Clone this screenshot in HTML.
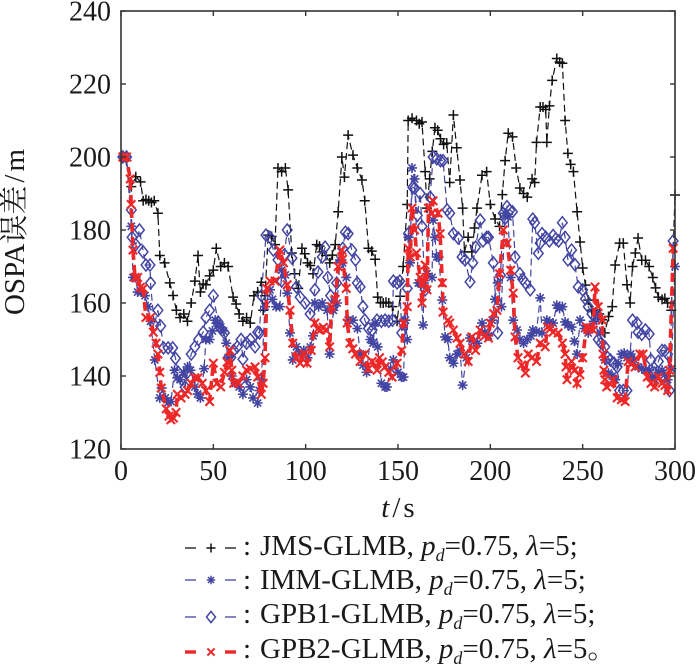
<!DOCTYPE html>
<html><head><meta charset="utf-8"><style>
html,body{margin:0;padding:0;background:#fff;}
svg{display:block;}
text{font-family:"Liberation Serif","Noto Serif CJK SC",serif;fill:#1a1a1a;}
</style></head><body>
<svg id="s" width="700" height="667" viewBox="0 0 700 667" xmlns="http://www.w3.org/2000/svg">
<g id="series"></g>
<rect x="121" y="11" width="554" height="438" fill="none" stroke="#333" stroke-width="1.6"/>
<g id="ticks" stroke="#333" stroke-width="1.4"></g>
<g font-size="28" text-anchor="middle">
<text x="121" y="480">0</text><text x="213.3" y="480">50</text><text x="305.7" y="480">100</text>
<text x="398" y="480">150</text><text x="490.3" y="480">200</text><text x="582.7" y="480">250</text><text x="675" y="480">300</text>
</g>
<g font-size="28" text-anchor="end">
<text x="111" y="458.5">120</text><text x="111" y="385.5">140</text><text x="111" y="312.5">160</text>
<text x="111" y="239.5">180</text><text x="111" y="166.5">200</text><text x="111" y="93.5">220</text><text x="111" y="20.5">240</text>
</g>
<text x="398" y="517" font-size="29" text-anchor="middle"><tspan font-style="italic">t</tspan><tspan dx="3">/</tspan><tspan dx="3">s</tspan></text>
<text transform="translate(24,232) rotate(-90)" font-size="29" text-anchor="middle">OSPA误差<tspan dx="3">/</tspan><tspan dx="3">m</tspan></text>
<g id="legend"></g>
<g font-size="29">
<text x="243" y="555">:</text>
<text x="260" y="555">JMS-GLMB, <tspan font-style="italic">p</tspan><tspan font-style="italic" font-size="18" dy="6">d</tspan><tspan dy="-6">=0.75, </tspan><tspan font-style="italic">λ</tspan>=5;</text>
<text x="243" y="589">:</text>
<text x="260" y="589">IMM-GLMB, <tspan font-style="italic">p</tspan><tspan font-style="italic" font-size="18" dy="6">d</tspan><tspan dy="-6">=0.75, </tspan><tspan font-style="italic">λ</tspan>=5;</text>
<text x="243" y="623">:</text>
<text x="260" y="623">GPB1-GLMB, <tspan font-style="italic">p</tspan><tspan font-style="italic" font-size="18" dy="6">d</tspan><tspan dy="-6">=0.75, </tspan><tspan font-style="italic">λ</tspan>=5;</text>
<text x="243" y="658">:</text>
<text x="260" y="658">GPB2-GLMB, <tspan font-style="italic">p</tspan><tspan font-style="italic" font-size="18" dy="6">d</tspan><tspan dy="-6">=0.75, </tspan><tspan font-style="italic">λ</tspan>=5。</text>
</g>
</svg>
<script>
(function(){
var NS="http://www.w3.org/2000/svg";
function X(t){return 121+t*554/300;}
function Y(v){return 449-(v-120)*3.65;}
var seed=12345;function rnd(){seed=(seed*1103515245+12345)%2147483648;return seed/2147483648;}
function el(tag,attrs,parent){var e=document.createElementNS(NS,tag);for(var k in attrs)e.setAttribute(k,attrs[k]);parent.appendChild(e);return e;}
var tg=document.getElementById('ticks');
for(var t=0;t<=300;t+=50){var x=X(t);el('line',{x1:x,y1:449,x2:x,y2:444},tg);el('line',{x1:x,y1:11,x2:x,y2:16},tg);}
for(var v=120;v<=240;v+=20){var y=Y(v);el('line',{x1:121,y1:y,x2:126,y2:y},tg);el('line',{x1:675,y1:y,x2:670,y2:y},tg);}

var black=[[1,200],[3,199],[5.6,191.9],[8,194.6],[10.6,193.2],[12,188],[15,188],[18,188],[20,184.6],[21,173],[23.6,171],[26.4,165.5],[30,158],[32,156],[34,157],[36,155],[38,160],[40,166],[41.7,173],[43,163],[46,165],[50,169],[51.6,175],[54,170],[56,171],[58,170],[60.7,161.6],[64,157],[66,155],[68,156],[70,154.5],[72,162],[76,165.7],[77,158],[78,162],[79.7,178.6],[83.4,176],[85,197],[87,196],[89,197],[90.5,191],[92.5,173.7],[94,168],[96,164],[98,175],[101,171],[104,168],[106,176],[109,174],[111,173],[113,171],[116,176],[117.6,185],[119.6,200],[121,194.5],[123,206],[125.6,200.5],[128,197],[130.5,193.7],[132,188],[134,175],[137.6,172],[139,161.6],[142,160],[145,160],[147,159],[149.5,155],[152.8,170],[155,187],[155.5,210],[157.6,210.6],[160,210],[163,209.6],[164.7,196],[165.7,186],[170,208],[173,205],[176.4,203.8],[178,193],[180,211.5],[183.6,193.7],[185,186],[186,174],[188,178],[190,174],[192.8,186],[195.5,195],[198,196],[200,187],[202.6,183],[205,181],[208,199],[209.7,206.5],[212,205.5],[214,197],[216,191.5],[218,190],[220,189],[222.6,194],[224,193],[225,204],[227,213.7],[228.5,213.7],[230,213],[230.6,204],[232,214],[233.5,221],[236,227],[237.5,226],[239,225.7],[240.5,210],[242,201],[245,196],[247,185],[248.6,176.7],[250,169.6],[253,160.8],[255,158],[257,157.5],[259,157],[262,151.8],[266,159],[267.6,170.4],[270,176.4],[272,176.4],[274,165],[275.7,160],[277,170],[280,177.8],[282,171.7],[284,171.7],[286,170],[288,167],[291,161.6],[293,161],[296,160],[298,158],[300,189.6]];
var red=[[1,200],[3,200],[5,194],[5.5,187],[6.5,174.5],[7.6,167],[9,167],[12,164],[13.5,156],[16,156],[19,149],[20,146],[21,141],[21.8,136.7],[24.5,131],[26,129],[27,128],[29.8,130],[30.5,135],[32.5,134],[34.7,135],[36,136],[38,138],[40,139.5],[41.7,139.5],[44,138],[46,136],[48,133],[50,143.5],[52,138],[54,137],[56,141],[59,147],[60,141.6],[61,138],[63.5,138],[66,140],[68,141.6],[70,142],[72.6,142.5],[74,139.7],[76,135],[77,138],[78,145],[79,164],[80.7,166],[83.4,166],[86,174.5],[88,171],[90,165],[91.5,158],[93,149],[95,145],[97,143.5],[99,146],[100.7,143.5],[103,147],[105,154.5],[108,152.6],[111,152.6],[113,148],[114,159],[116,161],[117.6,170],[119.6,174.5],[120,172],[122,164],[122.5,154.5],[124,149],[127,146],[129.5,144],[132,146],[134,142],[136,144],[138.7,141.6],[140,145],[143,142.5],[145,141],[146.8,139.7],[149.5,143.5],[152,147],[153,154.5],[155,159],[155.5,175],[156.6,172.6],[157.6,186],[159,180],[160,173.7],[162,167],[163,160],[164.7,170.4],[165.7,163.6],[166.5,186],[168.4,184.6],[169,188],[171.7,184.6],[172.8,179],[174,165.5],[174.4,157.5],[177,155.3],[178,154.5],[180,152.6],[182,150.4],[183.6,149],[186,146],[188,144],[190,150.7],[192,147],[194.5,152.6],[197,151],[199,150.4],[200,154.5],[203.6,158],[205,168],[207,180],[209,176.4],[211,169],[212.4,162.7],[213.4,150.7],[215,145],[217,143],[219,140.8],[220.5,146],[222.5,145],[225,144],[227,149],[229.7,148],[231,153.4],[234,152],[236.7,151.8],[239,149],[240.5,146],[241,142.5],[241.5,139],[244,144],[247,138],[250,145],[252,153.4],[255.7,152.6],[256.7,164.4],[258.4,159],[260.6,155.3],[261,146],[261.5,141.6],[262,139],[263,137],[266.5,139],[268.7,134],[271,133.5],[273,133],[274.6,144],[278.4,142.5],[281,146],[282.7,146],[285,139.7],[287,138],[289,137],[291,139.7],[293,138],[296,136],[297,141.6],[299,175]];
var stars=[[1,200],[3,200],[5.6,181],[6.5,167],[8,167],[9,163],[11,163],[13,162],[14.6,159],[16,155],[18.3,144.4],[21,134],[22,136.7],[24,134],[27,133],[29,141.6],[32,139],[34,141],[36,142.5],[37.6,141.6],[40,137],[43,134],[45,142],[46,150],[48,150],[51,155.3],[54,153.4],[57,149],[58,145],[60,140],[62,138],[64,137],[66,135],[68,139],[70,137],[71.5,134],[74,132.6],[75,136],[76,139],[78,159],[80.7,163.6],[82,161],[84,159],[86,159],[87,169],[89,167.7],[90,162.7],[91.5,151.8],[93,144.4],[95,148],[97,146],[99,147],[101,145],[104,151],[105,160],[107,159],[109,160],[111.6,158],[113,146],[115,158],[117,160],[118.6,171.8],[120,171],[122,167],[123,155.3],[125.6,155.3],[128,153],[129.6,146],[131,143],[133,141],[135,150],[136.5,149],[137.6,154.5],[139,148],[141,138],[143,137],[144,137],[146,142],[147.5,144.4],[150,141],[152,139.7],[153,139.7],[154,155.3],[155,150],[155.7,178],[156.5,171],[157.6,197],[159,194],[161,165.5],[162,165.5],[163.6,154],[164,165.5],[165.7,168],[168.4,167],[169,182.7],[170,178],[171,172.6],[172,172.6],[174,160.8],[175.5,150.7],[177,150],[178,145],[180,143.5],[182,146],[183.6,147],[185,137.5],[187,145],[189,150.4],[191,149.5],[193,149],[195.5,154.5],[197,152],[199,151],[201,155.3],[204,165.5],[206,159],[208,184.6],[209.6,183.6],[211,167],[212.4,155.3],[214.5,152.6],[216,150],[218,149],[220,150],[222,151],[223,152.6],[225,152.2],[227,161.4],[228,151.8],[230.6,155.3],[232,154.8],[234,154.5],[236,159.4],[239,159],[240.5,154.8],[242,154],[244,153.4],[247,146],[248.6,155.3],[251,153],[253,151.8],[254,153.4],[256,155],[258,157],[259.6,151.8],[262,144.4],[264,140.8],[266,140],[267.6,139],[271,146],[274,145],[276,146],[278,144.4],[280,142.5],[282,142],[284,141.6],[286,141.6],[289,139],[291,141],[293,141.6],[296,139],[298,142],[300,170]];
var dia=[[1,200],[3,200],[5.6,185.5],[6,178],[8,176],[10,180],[12,174],[13.5,170.4],[15.7,170.4],[16,165.5],[18,154],[20,158],[23,147.7],[25.5,147.7],[28,147.7],[31,141],[33,139],[34.7,137],[36,141],[38,146],[40,148],[42,150],[44.5,152],[46,156],[48,158],[50,162],[52.6,154.8],[54,153],[56,151.8],[58,145],[61,147],[63,148],[65,150],[66,144.6],[68,149],[70,150],[72.6,148],[74,152],[75,151.8],[76,162],[78.5,178.6],[80.7,178],[82.5,174.5],[85,171.8],[87,166],[90,180],[92.6,172.3],[95,164.4],[97,161.6],[99.7,160],[102.4,157],[105,163.6],[106.7,168.5],[109,172.6],[110.5,175.3],[112,167],[115,159],[118.6,171],[121.5,179.4],[123,179],[125,174.5],[127,171.8],[128,165.5],[129.5,164.4],[131,159],[132,155.3],[134,153],[136,152.6],[138.6,155.3],[141,155],[143,155.3],[145,155],[147,155.3],[147.5,166],[149.5,165.5],[151,166],[152,151.8],[153,154.5],[155,164],[155.6,179],[158,191.7],[159,191.5],[160.5,184],[162,190],[163,181],[164.7,163.6],[167.4,189],[169,200],[171,199.5],[173,199],[174.4,199],[176.6,185.5],[178,184.6],[180,179],[182.6,177.8],[184.7,172.6],[186.3,171.8],[189,165.8],[192,175.3],[194.5,182.7],[196,177],[198,178],[199,178],[201.6,171],[204,151.8],[207,184.6],[208,183.2],[209,186.4],[212,185],[213.4,172.6],[216,168],[219,165.5],[221.6,163.6],[223,183],[224,182],[226,173.6],[227,176.4],[228,179],[230,178],[232,177],[234,178.5],[237,177],[239,182],[240.5,178],[242,171.8],[244,174.5],[247.6,164.4],[250,163.6],[253,159],[255,157],[257,156],[258.4,150],[260,149],[262,148],[265,144.4],[267,143.5],[268.7,142.5],[270,136],[272,136],[274,136],[277,155.3],[279.5,154.5],[280,152],[284,152.6],[286,151.5],[287,144.4],[289,140.8],[291,144],[293,147],[296,146],[297,136],[299,177]];

function densify(d){var o=[];for(var i=0;i<d.length;i++){o.push(d[i]);if(i<d.length-1){var a=d[i],b=d[i+1],g=b[0]-a[0];if(g>2.8){var n=Math.floor(g/2.1);for(var k=1;k<=n;k++){var f=k/(n+1);o.push([a[0]+g*f,a[1]+(b[1]-a[1])*f+(rnd()-0.5)*2.4]);}}}}return o;}
var S=document.getElementById('series');
function pathOf(d){return d.map(function(p,i){return (i?'L':'M')+X(p[0]).toFixed(1)+' '+Y(p[1]).toFixed(1);}).join(' ');}
function plus(g,x,y,c,r,w){el('path',{d:'M'+(x-r)+' '+y+'H'+(x+r)+'M'+x+' '+(y-r)+'V'+(y+r),stroke:c,'stroke-width':w,fill:'none'},g);}
function star(g,x,y,c,r,w){var q=r*0.72;el('path',{d:'M'+(x-r)+' '+y+'H'+(x+r)+'M'+x+' '+(y-r)+'V'+(y+r)+'M'+(x-q)+' '+(y-q)+'L'+(x+q)+' '+(y+q)+'M'+(x-q)+' '+(y+q)+'L'+(x+q)+' '+(y-q),stroke:c,'stroke-width':w,fill:'none'},g);}
function diamond(g,x,y,c,r,w){el('path',{d:'M'+x+' '+(y-r*1.25)+'L'+(x+r)+' '+y+'L'+x+' '+(y+r*1.25)+'L'+(x-r)+' '+y+'Z',stroke:c,'stroke-width':w,fill:'none'},g);}
function cross(g,x,y,c,r,w){el('path',{d:'M'+(x-r)+' '+(y-r)+'L'+(x+r)+' '+(y+r)+'M'+(x-r)+' '+(y+r)+'L'+(x+r)+' '+(y-r),stroke:c,'stroke-width':w,fill:'none'},g);}
var BL='#4345a3',RD='#ee2828',BK='#111';
function series(d,col,lw,dash,mk,mr,mw){var dd=densify(d);var g=el('g',{},S);el('path',{d:pathOf(dd),stroke:col,'stroke-width':lw,'stroke-dasharray':dash,fill:'none'},g);dd.forEach(function(p){mk(g,X(p[0]),Y(p[1]),col,mr,mw);});}
series(black,BK,1.2,'7 4',plus,5,1.5);
series(stars,BL,1.2,'7 4',star,5,1.6);
series(dia,BL,1.2,'7 4',diamond,4.8,1.5);
series(red,RD,3.6,'9 5',cross,4.2,2.1);
var L=document.getElementById('legend');
var rows=[[548,BK,1.3,plus,4.5,1.5],[580,BL,1.3,star,4.2,1.5],[617,BL,1.3,diamond,4.5,1.5],[652,RD,3.4,cross,3.6,2]];
rows.forEach(function(r){el('line',{x1:185,y1:r[0],x2:196,y2:r[0],stroke:r[1],'stroke-width':r[2]},L);el('line',{x1:225,y1:r[0],x2:236,y2:r[0],stroke:r[1],'stroke-width':r[2]},L);r[3](L,211,r[0],r[1],r[4],r[5]);});
})();
</script>
</body></html>
